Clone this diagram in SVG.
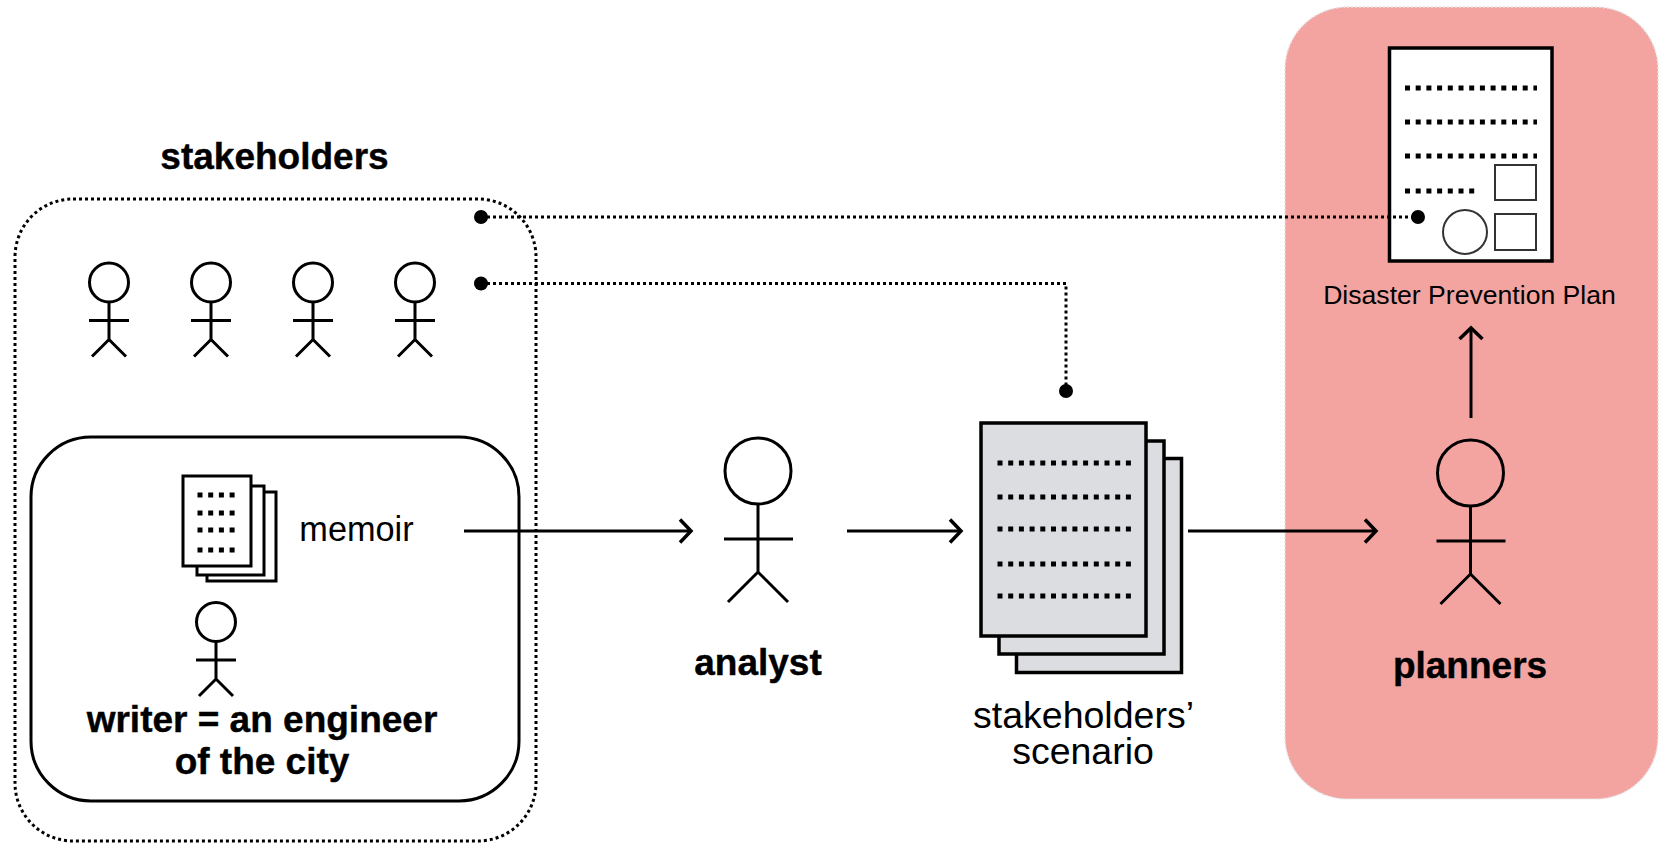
<svg xmlns="http://www.w3.org/2000/svg" xmlns:xlink="http://www.w3.org/1999/xlink" width="1661" height="843" viewBox="0 0 1661 843">
<style>
text{font-family:"Liberation Sans",Arial,sans-serif;fill:#000;text-anchor:middle}
.b{font-weight:700;font-size:37px;stroke:#000;stroke-width:.4}
.r{font-size:34.300px}
.s{font-size:37.500px}
.ln{fill:none;stroke:#000;stroke-width:3}
.doc{fill:#fff;stroke:#000;stroke-width:3}
.gdoc{fill:#dcdde0;stroke:#000;stroke-width:3.5}
.dots{fill:none;stroke:#000;stroke-width:5;stroke-dasharray:5 5.7}
.dot2{fill:none;stroke:#000;stroke-width:3;stroke-dasharray:3 3}
.conn{fill:none;stroke:#000;stroke-width:3}
.box{fill:#fff;stroke:#333;stroke-width:2}
</style>
<defs>
<marker id="arr" markerUnits="userSpaceOnUse" markerWidth="20" markerHeight="30" refX="15" refY="15" orient="auto"><path d="M4 3.500L15 15L4 26.500" fill="none" stroke="#000" stroke-width="3.500"/></marker>
<marker id="blob" markerUnits="userSpaceOnUse" markerWidth="16" markerHeight="16" refX="8" refY="8"><circle cx="8" cy="8" r="7" fill="#000"/></marker>
<g id="small"><circle cx="0" cy="0" r="19.500" fill="#fff" stroke="#000" stroke-width="3"/><path class="ln" d="M0 19.500V57M-20 38H20M-17 74L0 57L17 74"/></g>
<g id="big"><circle cx="0" cy="0" r="33" fill="none" stroke="#000" stroke-width="3"/><path class="ln" d="M0 33V101M-34 68H35M-30 131L0 101L30 131"/></g>
</defs>
<g id="plan-zone"><rect x="1285" y="7" width="373" height="792" rx="62" fill="#f3a4a1" stroke="#e4e4e4" stroke-width="1.500" stroke-dasharray="2 2"/></g>
<g id="stakeholders"><rect x="15" y="199" width="521" height="642" rx="58" fill="none" stroke="#000" stroke-width="3" stroke-dasharray="3 3"/><text class="b" x="274.500" y="169">stakeholders</text></g>
<g id="stakeholder-1"><use href="#small" x="109" y="282.500"/></g>
<g id="stakeholder-2"><use href="#small" x="211" y="282.500"/></g>
<g id="stakeholder-3"><use href="#small" x="313" y="282.500"/></g>
<g id="stakeholder-4"><use href="#small" x="415" y="282.500"/></g>
<g id="writer-box"><rect x="31" y="437" width="488" height="364" rx="60" fill="none" stroke="#000" stroke-width="3"/></g>
<g id="memoir">
<rect class="doc" x="207" y="492" width="69" height="89"/><rect class="doc" x="197" y="486" width="67" height="89"/><rect class="doc" x="183" y="476" width="68" height="90"/>
<path class="dots" d="M197.500 495H238M197.500 513H238M197.500 530H238M197.500 550H238"/>
<text class="r" x="356.500" y="541">memoir</text></g>
<g id="writer"><use href="#small" x="216" y="622"/><text class="b" x="262" y="732"><tspan x="262" y="732">writer = an engineer</tspan><tspan x="262" y="774">of the city</tspan></text></g>
<g id="analyst"><use href="#big" x="758" y="471"/><text class="b" x="758" y="675">analyst</text></g>
<g id="scenario">
<rect class="gdoc" x="1016.500" y="458.500" width="165" height="214"/><rect class="gdoc" x="999" y="441" width="165" height="213"/><rect class="gdoc" x="981" y="423" width="165" height="213"/>
<path class="dots" d="M997.500 463H1132M997.500 497H1132M997.500 529H1132M997.500 564H1132M997.500 596H1132"/>
<text class="s"><tspan x="1083.500" y="728">stakeholders’</tspan><tspan x="1083" y="764">scenario</tspan></text></g>
<g id="plan">
<rect x="1389.500" y="48" width="162.500" height="213" fill="#fff" stroke="#000" stroke-width="3.500"/>
<path class="dots" d="M1405 88H1537M1405 122H1537M1405 156H1537M1405 191H1476"/>
<rect class="box" x="1495" y="165" width="41" height="35"/><rect class="box" x="1495" y="214" width="41" height="36"/><circle class="box" cx="1465" cy="232" r="22"/>
<text style="font-size:26.600px" x="1469.500" y="304">Disaster Prevention Plan</text></g>
<g id="planners"><use href="#big" x="1470.500" y="473"/><text class="b" x="1470" y="677.500">planners</text></g>
<g id="connectors">
<path class="conn" d="M464 531H691" marker-end="url(#arr)"/>
<path class="conn" d="M847 531H961" marker-end="url(#arr)"/>
<path class="conn" d="M1188 531H1376" marker-end="url(#arr)"/>
<path class="conn" d="M1471 418V328" marker-end="url(#arr)"/>
<path class="dot2" d="M481 217H1418" marker-start="url(#blob)" marker-end="url(#blob)"/>
<path class="dot2" d="M481 283.500H1066V391" marker-start="url(#blob)" marker-end="url(#blob)"/>
</g>
</svg>
